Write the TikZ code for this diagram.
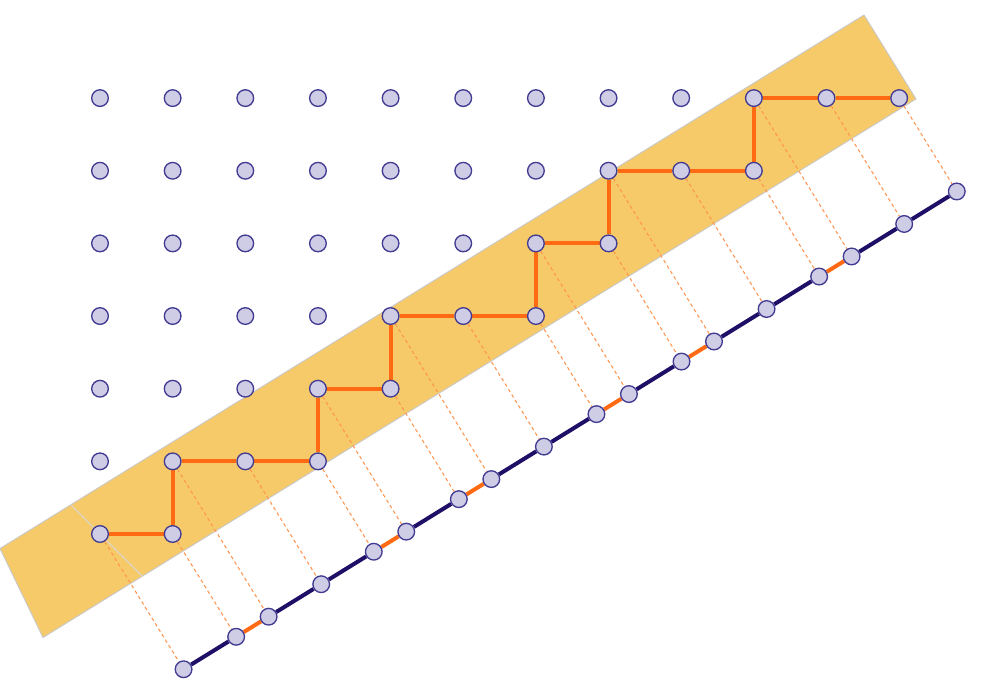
\documentclass[tikz,border=0pt]{standalone}
\usetikzlibrary{calc}
\definecolor{stripfill}{HTML}{F6CA68}
\definecolor{stripedge}{HTML}{C9C9C9}
\definecolor{seam}{HTML}{DDD5C2}
\definecolor{pathor}{HTML}{FF6A13}
\definecolor{dashor}{HTML}{FF9550}
\definecolor{navy}{HTML}{1F0F66}
\definecolor{ptfill}{HTML}{CFCCE6}
\definecolor{ptedge}{HTML}{423B92}
\pgfdeclarelayer{bg}
\pgfdeclarelayer{lines}
\pgfsetlayers{bg,lines,main}
\tikzset{
  pt/.style={circle,draw=ptedge,fill=ptfill,line width=1pt,minimum size=12.5pt,inner sep=0pt},
  stairline/.style={pathor,line width=3pt},
  projdash/.style={dashor,line width=0.8pt,dash pattern=on 2.6pt off 2.2pt},
  longseg/.style={navy,line width=3pt},
  shortseg/.style={pathor,line width=3pt},
  stripbox/.style={fill=stripfill,draw=stripedge,line width=0.7pt},
  seamline/.style={seam,line width=0.8pt}
}
\begin{document}
\begin{tikzpicture}[x=0.75pt,y=-0.75pt]
\useasboundingbox (0,0) rectangle (984,698);
% strip
\begin{pgfonlayer}{bg}
\path[stripbox] (864,15) -- (916,99) -- (43,637.5) -- (0,548.5) -- cycle;
\draw[seamline] (71.1,505.1) -- (142.8,576.8);
\end{pgfonlayer}
% background lattice points
\foreach \j/\m in {6/8,5/6,4/5,3/3,2/2,1/0}{
  \foreach \i in {0,...,\m}{
    \node[pt] (g-\i-\j) at ({100+72.65*\i},{534-72.65*\j}) {};
  }
}
% staircase points
\foreach \i/\j [count=\k from 0] in {0/0,1/0,1/1,2/1,3/1,3/2,4/2,4/3,5/3,6/3,6/4,7/4,7/5,8/5,9/5,9/6,10/6,11/6}{
  \node[pt] (q\k) at ({100+72.65*\i},{534-72.65*\j}) {};
}
% projection line ends
\coordinate (A) at (184,669);
\coordinate (B) at (956.9,191.4);
\foreach \k in {0,...,17}{
  \node[pt] (r\k) at ($(A)!(q\k)!(B)$) {};
}
\begin{pgfonlayer}{lines}
% dashed projectors
\foreach \k in {0,...,17}{
  \draw[projdash] (q\k) -- (r\k);
}
% staircase
\draw[stairline] (q0) -- (q1) -- (q2) -- (q3) -- (q4) -- (q5) -- (q6) -- (q7) -- (q8) -- (q9) -- (q10) -- (q11) -- (q12) -- (q13) -- (q14) -- (q15) -- (q16) -- (q17);
% projected segments
\foreach \k/\s [evaluate=\k as \n using int(\k+1)] in {0/longseg,1/shortseg,2/longseg,3/longseg,4/shortseg,5/longseg,6/shortseg,7/longseg,8/longseg,9/shortseg,10/longseg,11/shortseg,12/longseg,13/longseg,14/shortseg,15/longseg,16/longseg}{
  \draw[\s] (r\k) -- (r\n);
}
\end{pgfonlayer}
\end{tikzpicture}
\end{document}
